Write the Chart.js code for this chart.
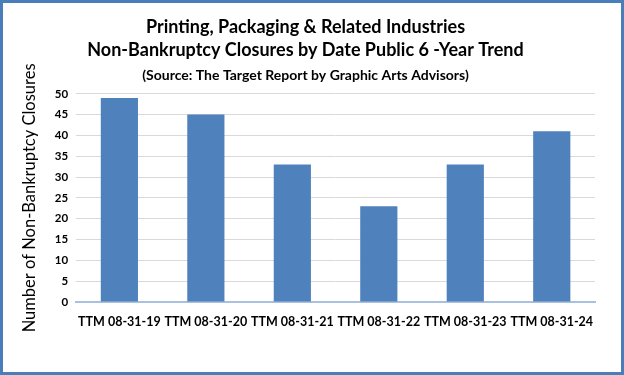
<!DOCTYPE html>
<html>
<head>
<meta charset="utf-8">
<script src="https://cdn.jsdelivr.net/npm/chart.js@4.4.0/dist/chart.umd.min.js"></script>
<style>
  body { margin: 0; background: #fff; }
  #wrap { width: 624px; height: 375px; box-sizing: border-box; border: 3px solid #4A7EBB; position: relative; }
  #myChart { display: block; }
</style>
</head>
<body>
<div id="wrap"><canvas id="myChart" width="618" height="369"></canvas></div>
<script>
const labels = ["TTM 08-31-19", "TTM 08-31-20", "TTM 08-31-21", "TTM 08-31-22", "TTM 08-31-23", "TTM 08-31-24"];
const closures = [49, 45, 33, 23, 33, 41];
const yTicks = [0, 5, 10, 15, 20, 25, 30, 35, 40, 45, 50];

const fontName = "Lato, 'Open Sans', sans-serif";

new Chart("myChart", {
  type: "bar",
  data: {
    labels: labels,
    datasets: [{
      data: closures,
      backgroundColor: "#4F81BD",
      barPercentage: 0.43,
      categoryPercentage: 1.0
    }]
  },
  options: {
    responsive: false,
    animation: false,
    layout: { padding: { left: 13, right: 26, top: 6, bottom: 31 } },
    plugins: {
      legend: { display: false },
      tooltip: { enabled: false },
      title: {
        display: true,
        text: ["Printing, Packaging & Related Industries", "Non-Bankruptcy Closures by Date Public 6 -Year Trend"],
        color: "#000",
        font: { family: fontName, size: 18, weight: "bold", lineHeight: 1.25 },
        padding: { top: 7, bottom: 4 }
      },
      subtitle: {
        display: true,
        text: "(Source: The Target Report by Graphic Arts Advisors)",
        color: "#000",
        font: { family: fontName, size: 14, weight: "bold" },
        padding: { top: 2, bottom: 10 }
      }
    },
    scales: {
      x: {
        grid: { display: false, drawTicks: false },
        border: { color: "#A9C1DF", width: 2 },
        ticks: { color: "#000", font: { family: fontName, size: 12.5, weight: "bold" }, padding: 12, maxRotation: 0 }
      },
      y: {
        min: 0,
        max: 50,
        afterBuildTicks: function (axis) { axis.ticks = yTicks.map(v => ({ value: v })); },
        grid: { color: "#D9D9D9", drawTicks: false },
        border: { display: false },
        ticks: { color: "#000", font: { family: fontName, size: 11.5, weight: "bold" }, padding: 8 },
        title: {
          display: true,
          text: "Number of Non-Bankruptcy Closures",
          color: "#000",
          font: { family: fontName, size: 16.5 },
          padding: { bottom: 7 }
        }
      }
    }
  }
});
</script>
</body>
</html>
